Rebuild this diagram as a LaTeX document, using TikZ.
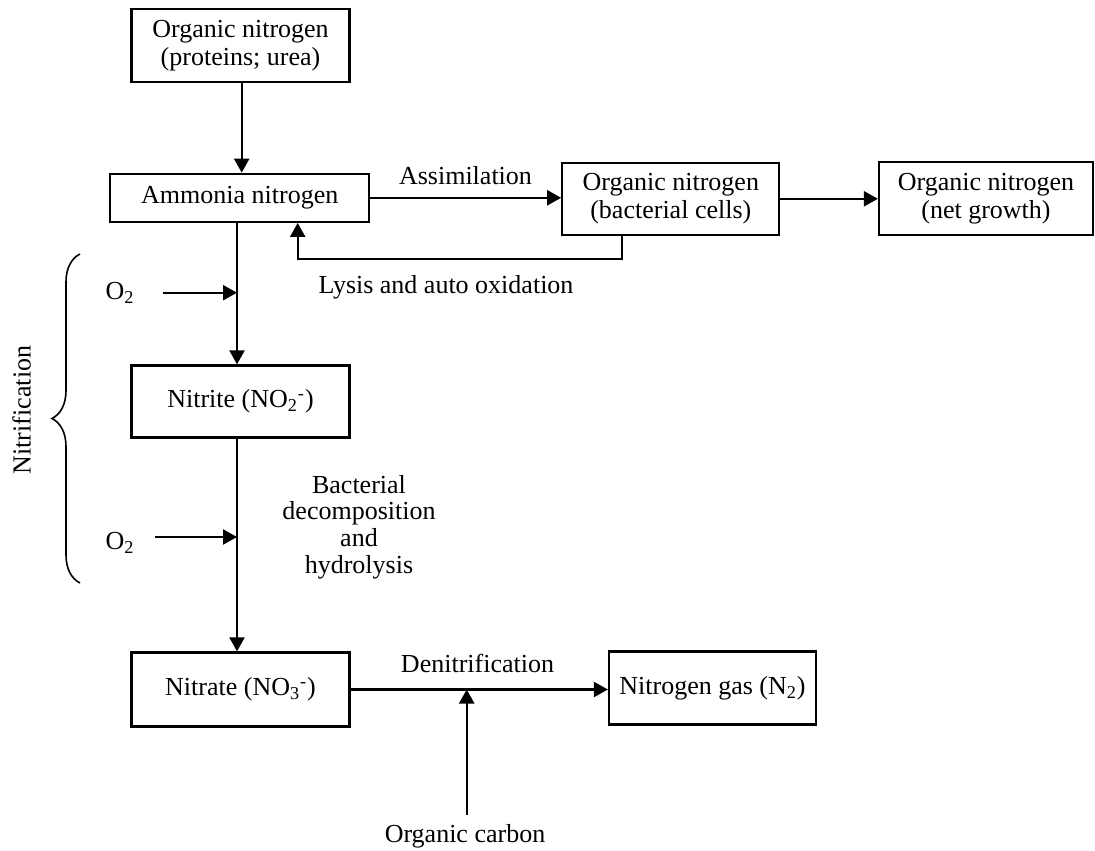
\documentclass[tikz,border=0pt]{standalone}
\usepackage{fontspec}
\setmainfont{Liberation Serif}
\usetikzlibrary{arrows.meta,decorations.pathreplacing}
\newcommand{\boxline}{1.15pt}
\newcommand{\txt}{\fontsize{13}{14}\selectfont}
\tikzset{box/.style={draw, line width=\boxline, align=center, inner sep=0pt, font=\txt},
  lbl/.style={align=center, inner sep=1pt, font=\txt},
  arr/.style={line width=\boxline, -{Triangle[length=7pt,width=7.5pt]}}}

\begin{document}
\begin{tikzpicture}[x=0.5pt,y=-0.5pt]
\useasboundingbox (0,0) rectangle (1095,850);
%boxes
\node[box, minimum width=109pt, minimum height=36.5pt] (orgn) at (240.5,45.3) {Organic nitrogen\\(proteins; urea)};
\node[box, minimum width=129.5pt, minimum height=24pt] (amm) at (239.7,197.8) {Ammonia nitrogen};
\node[box, minimum width=108.5pt, minimum height=36pt] (bact) at (670.8,198.8) {Organic nitrogen\\(bacterial cells)};
\node[box, minimum width=107pt, minimum height=36.5pt] (net) at (986,198.5) {Organic nitrogen\\(net growth)};
\node[box, minimum width=109pt, minimum height=36pt] (nitrite) at (240.5,401.5) {Nitrite (NO\textsubscript{2}\textsuperscript{-})};
\node[box, minimum width=109pt, minimum height=37pt] (nitrate) at (240.5,689.5) {Nitrate (NO\textsubscript{3}\textsuperscript{-})};
\node[box, minimum width=103.5pt, minimum height=36.5pt] (n2) at (712.5,688) {Nitrogen gas (N\textsubscript{2})};
%labels
\node[lbl] (assim) at (465.5,176) {Assimilation};
\node[lbl] (lysis) at (446,287) {Lysis and auto oxidation};
\node[lbl, font=\fontsize{13}{13.3}\selectfont] (decomp) at (359,527) {Bacterial\\decomposition\\and\\hydrolysis};
\node[lbl] (denit) at (477.5,663) {Denitrification};
\node[lbl] (carbon) at (465,836) {Organic carbon};
\node[lbl] (o2a) at (120,292.5) {O\textsubscript{2}};
\node[lbl] (o2b) at (120,543) {O\textsubscript{2}};
\node[lbl, rotate=90] (nitr) at (21.7,410) {Nitrification};
%points
\coordinate (mx) at (237,0);
\coordinate (fb) at (297.7,259.3);
\coordinate (o2ain) at (162.7,292.7);
\coordinate (o2bin) at (155,537);
\coordinate (bt) at (80,254);
\coordinate (bb) at (80,583);
%arrows
\draw[arr] (orgn.south -| 241.7,0) -- (amm.north -| 241.7,0);
\draw[arr] (amm.east) -- (amm.east -| bact.west);
\draw[arr] (bact.east) -- (bact.east -| net.west);
\draw[arr] ([xshift=-24.25pt]bact.south) |- (fb) -- (fb |- amm.south);
\draw[arr] (amm.south -| mx) -- (nitrite.north -| mx);
\draw[arr] (nitrite.south -| mx) -- (nitrate.north -| mx);
\draw[arr] (o2ain) -- (o2ain -| mx);
\draw[arr] (o2bin) -- (o2bin -| mx);
\draw[arr] (nitrate.east) -- (nitrate.east -| n2.west);
\draw[arr] (466.7,815) -- (466.7,689.5);
%brace
\draw[line width=0.8pt, decorate, decoration={brace, amplitude=14pt}] (bb) -- (bt);
\end{tikzpicture}
\end{document}
